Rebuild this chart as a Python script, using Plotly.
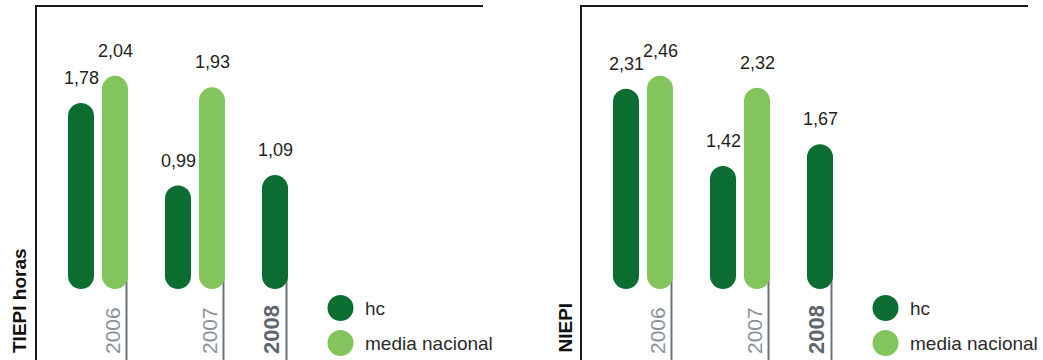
import plotly.graph_objects as go

# ---------------- data ----------------
years = ["2006", "2007", "2008"]
tiepi_hc = [1.78, 0.99, 1.09]
tiepi_media = [2.04, 1.93, None]
niepi_hc = [2.31, 1.42, 1.67]
niepi_media = [2.46, 2.32, None]
series_names = ["hc", "media nacional"]
panel_titles = ["TIEPI horas", "NIEPI"]

# ---------------- styling / layout ----------------
W, H = 1043, 360
DARK = "#0b6d31"
LIGHT = "#83c55c"
TXT = "#231f20"
GRAY = "#6b717a"
FONT = "Liberation Sans, Arial, sans-serif"

GROUP_PX = 97            # pixel distance between year groups
BAR_PX = 26              # bar width in px
HALF_GAP = 17            # distance of bar centres from group centre
FIRST_GROUP_PX = 61      # first group centre from axis line

panels = [
    dict(hc=tiepi_hc, media=tiepi_media, title=panel_titles[0],
         x0=37, x1=483, scale=104.5, xa="x", ya="y"),
    dict(hc=niepi_hc, media=niepi_media, title=panel_titles[1],
         x0=582, x1=1028, scale=86.7, xa="x2", ya="y2"),
]
TOP_PX, ZERO_PX = 7, 289

bw = BAR_PX / GROUP_PX
off_hc = -(HALF_GAP + BAR_PX / 2) / GROUP_PX
off_md = (HALF_GAP - BAR_PX / 2) / GROUP_PX

fig = go.Figure()
shapes, annotations = [], []


def bar(xs, size, base, offset, color, xa, ya, radius):
    fig.add_trace(go.Bar(x=xs, y=size, base=base, width=bw, offset=offset,
                         marker=dict(color=color, cornerradius=radius, line=dict(width=0)),
                         xaxis=xa, yaxis=ya, hoverinfo="skip", showlegend=False))


def add_round_bars(xs, vals, offset, color, xa, ya):
    r = BAR_PX / 2
    # upper half, rounded at the top
    bar(xs, [0.5 * v for v in vals], [0.5 * v for v in vals], offset, color, xa, ya, r)
    # lower half, rounded at the bottom
    bar(xs, [-0.5 * v for v in vals], [0.5 * v for v in vals], offset, color, xa, ya, r)
    # square middle piece hiding the joint
    bar(xs, [0.4 * v for v in vals], [0.3 * v for v in vals], offset, color, xa, ya, 0)


for p_i, p in enumerate(panels):
    xa, ya = p["xa"], p["ya"]
    xs = list(range(len(years)))
    hc_x = [i for i in xs if p["hc"][i] is not None]
    md_x = [i for i in xs if p["media"][i] is not None]
    add_round_bars(hc_x, [p["hc"][i] for i in hc_x], off_hc, DARK, xa, ya)
    add_round_bars(md_x, [p["media"][i] for i in md_x], off_md, LIGHT, xa, ya)

    ymin = -(H - ZERO_PX) / p["scale"]
    ymax = (ZERO_PX - TOP_PX) / p["scale"]
    xmin = -FIRST_GROUP_PX / GROUP_PX
    xmax = xmin + (p["x1"] - p["x0"]) / GROUP_PX

    suffix = "" if p_i == 0 else "2"
    fig.layout["xaxis" + suffix] = dict(
        domain=[p["x0"] / W, p["x1"] / W], range=[xmin, xmax], side="top",
        showline=True, linecolor="#1a1a1a", linewidth=1.5, showgrid=False,
        zeroline=False, showticklabels=False, ticks="", anchor=ya, fixedrange=True)
    fig.layout["yaxis" + suffix] = dict(
        domain=[0, 1 - TOP_PX / H], range=[ymin, ymax], showline=True,
        linecolor="#1a1a1a", linewidth=2, showgrid=False, zeroline=False,
        showticklabels=False, ticks="", anchor=xa, fixedrange=True)

    # value labels
    for i in xs:
        for vals, off in ((p["hc"], off_hc), (p["media"], off_md)):
            v = vals[i]
            if v is None:
                continue
            annotations.append(dict(
                x=i + off + bw / 2, y=v, xref=xa, yref=ya, yshift=25,
                text=f"{v:.2f}".replace(".", ","), showarrow=False,
                xanchor="center", yanchor="middle",
                font=dict(family=FONT, size=18, color=TXT)))

    # year tick lines + labels
    for i, yr in enumerate(years):
        last_off = off_md if p["media"][i] is not None else off_hc
        lx = i + last_off + bw
        shapes.append(dict(type="line", xref=xa, yref=ya, xsizemode="pixel", xanchor=lx,
                           x0=-1.5, x1=-1.5, y0=ymin, y1=0.2,
                           line=dict(color=GRAY, width=2), layer="below"))
        bold = (i == len(years) - 1)
        annotations.append(dict(
            x=lx, y=0, xref=xa, yref="paper", xshift=-3, yshift=5,
            text=f"<b>{yr}</b>" if bold else yr, textangle=-90, showarrow=False,
            xanchor="right", yanchor="bottom", borderpad=0,
            font=dict(family=FONT, size=22 if bold else 21,
                      color="#5d656f" if bold else "#8b929b")))

    # panel title (rotated)
    annotations.append(dict(
        x=(p["x0"] - 6) / W, y=6 / H, xref="paper", yref="paper",
        text=f"<b>{p['title']}</b>", textangle=-90, showarrow=False,
        xanchor="right", yanchor="bottom", borderpad=0,
        font=dict(family=FONT, size=19, color="#111111")))

    # legend
    cx = p["x0"] + 303.5
    for k, (name, col) in enumerate(zip(series_names, [DARK, LIGHT])):
        cy = 308 + 35 * k
        shapes.append(dict(type="circle", xref="paper", yref="paper",
                           x0=(cx - 13) / W, x1=(cx + 13) / W,
                           y0=1 - (cy + 13) / H, y1=1 - (cy - 13) / H,
                           fillcolor=col, line=dict(width=0)))
        annotations.append(dict(
            x=(cx + 22) / W, y=1 - cy / H, xref="paper", yref="paper",
            text=name, showarrow=False, xanchor="left", yanchor="middle",
            font=dict(family=FONT, size=19, color="#2b2b2b")))

fig.update_layout(
    width=W, height=H, margin=dict(l=0, r=0, t=0, b=0, pad=0),
    paper_bgcolor="white", plot_bgcolor="white", barmode="overlay",
    showlegend=False, shapes=shapes, annotations=annotations,
    font=dict(family=FONT))

fig.write_html("out.html", config={"displayModeBar": False})
